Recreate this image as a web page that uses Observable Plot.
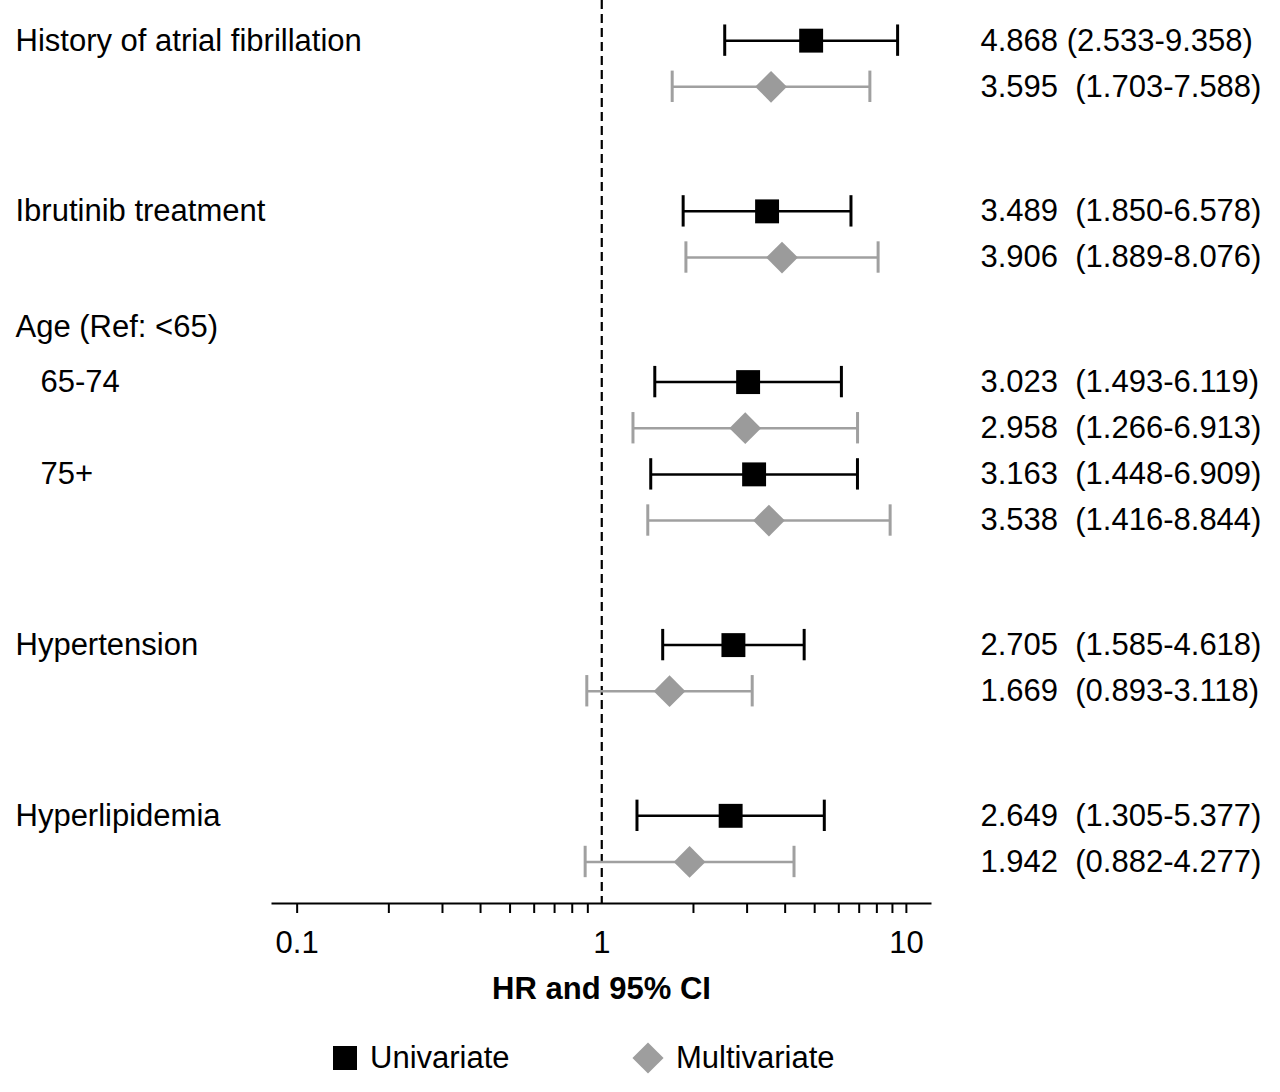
<!DOCTYPE html>
<html>
<head>
<meta charset="utf-8">
<script src="https://cdn.jsdelivr.net/npm/d3@7"></script>
<script src="https://cdn.jsdelivr.net/npm/@observablehq/plot@0.6"></script>
<style>
  html, body { margin: 0; padding: 0; background: #fff; }
  body { width: 1280px; height: 1092px; overflow: hidden; font-family: "Liberation Sans", Arial, sans-serif; }
  #chart svg { display: block; }
  #chart svg text { white-space: pre; }
  #legend { position: relative; height: 82px; width: 1280px; font-size: 31px; color: #000; }
  .item { position: absolute; top: 48px; transform: translateY(-50%); display: flex; align-items: center; }
  .sq { width: 24px; height: 24px; background: #000; margin-right: 13px; }
  .dm { width: 22px; height: 22px; background: #9e9e9e; transform: rotate(45deg); margin: 0 17px 0 5px; }
</style>
</head>
<body>
<div id="chart"></div>
<div id="legend">
  <div class="item" style="left:333px"><div class="sq"></div><span>Univariate</span></div>
  <div class="item" style="left:632px"><div class="dm"></div><span>Multivariate</span></div>
</div>
<script>
// ---- data ----
const groupLabels = ["History of atrial fibrillation", "Ibrutinib treatment", "Age (Ref: <65)", "65-74", "75+", "Hypertension", "Hyperlipidemia"];
const groupRows   = [0, 3.7, 6.2, 7.4, 9.4, 13.1, 16.8];
const groupIndent = [0, 0, 0, 1, 1, 0, 0];

const models   = ["Univariate", "Multivariate"];
const estRows  = [0, 1, 3.7, 4.7, 7.4, 8.4, 9.4, 10.4, 13.1, 14.1, 16.8, 17.8];
const estModel = ["Univariate", "Multivariate", "Univariate", "Multivariate", "Univariate", "Multivariate",
                  "Univariate", "Multivariate", "Univariate", "Multivariate", "Univariate", "Multivariate"];
const hr    = [4.868, 3.595, 3.489, 3.906, 3.023, 2.958, 3.163, 3.538, 2.705, 1.669, 2.649, 1.942];
const lower = [2.533, 1.703, 1.850, 1.889, 1.493, 1.266, 1.448, 1.416, 1.585, 0.893, 1.305, 0.882];
const upper = [9.358, 7.588, 6.578, 8.076, 6.119, 6.913, 6.909, 8.844, 4.618, 3.118, 5.377, 4.277];
const gapText = [" ", "  ", "  ", "  ", "  ", "  ", "  ", "  ", "  ", "  ", "  ", "  "];

const majorTicks = [0.1, 1, 10];
const minorTicks = [0.1, 0.2, 0.3, 0.4, 0.5, 0.6, 0.7, 0.8, 0.9, 2, 3, 4, 5, 6, 7, 8, 9, 10];
const axisTitle = "HR and 95% CI";

// ---- tables ----
const est = hr.map((v, i) => ({
  row: estRows[i], model: estModel[i], hr: v, lo: lower[i], hi: upper[i],
  label: `${v.toFixed(3)}${gapText[i]}(${lower[i].toFixed(3)}-${upper[i].toFixed(3)})`
}));
const groups = groupLabels.map((t, i) => ({text: t, row: groupRows[i], indent: groupIndent[i]}));

const capHalf = 0.34;
const font = "Liberation Sans, Arial, sans-serif";

const chart = Plot.plot({
  width: 1280,
  height: 1010,
  marginLeft: 272,
  marginRight: 350,
  marginTop: 0,
  marginBottom: 107,
  style: {fontFamily: font, fontSize: "31px", color: "#000", background: "#fff"},
  x: {type: "log", domain: [0.083, 12], axis: null},
  y: {type: "linear", domain: [-0.87, 18.70], reverse: true, axis: null},
  color: {domain: models, range: ["#000000", "#a0a0a0"]},
  marks: [
    Plot.ruleX([1], {stroke: "#000", strokeWidth: 2.2, strokeDasharray: "9,5"}),
    Plot.frame({anchor: "bottom", stroke: "#000", strokeWidth: 2}),
    Plot.axisX({ticks: minorTicks, tickSize: 10, tickFormat: () => "", strokeWidth: 2, label: null}),
    Plot.axisX({ticks: majorTicks, tickSize: 0, tickPadding: 27, tickFormat: d => String(d), fontSize: 31, label: null}),
    Plot.text([axisTitle], {frameAnchor: "bottom", dy: 95, text: d => d, fontWeight: "bold", fontSize: 31}),
    Plot.ruleY(est, {y: "row", x1: "lo", x2: "hi", stroke: "model", strokeWidth: 2.5}),
    Plot.ruleX(est, {x: "lo", y1: d => d.row - capHalf, y2: d => d.row + capHalf, stroke: "model", strokeWidth: 3}),
    Plot.ruleX(est, {x: "hi", y1: d => d.row - capHalf, y2: d => d.row + capHalf, stroke: "model", strokeWidth: 3}),
    Plot.dot(est.filter(d => d.model === "Univariate"), {x: "hr", y: "row", symbol: "square", r: 13.5, fill: "#000", stroke: null}),
    Plot.dot(est.filter(d => d.model === "Multivariate"), {x: "hr", y: "row", symbol: "diamond2", r: 14.3, fill: "#9b9b9b", stroke: null}),
    Plot.text(est, {y: "row", text: "label", frameAnchor: "right", textAnchor: "start", dx: 50, fontSize: 31, fill: "#000"}),
    Plot.text(groups.filter(d => !d.indent), {y: "row", text: "text", frameAnchor: "left", textAnchor: "start", dx: -257, fontSize: 31, fill: "#000"}),
    Plot.text(groups.filter(d => d.indent), {y: "row", text: "text", frameAnchor: "left", textAnchor: "start", dx: -232, fontSize: 31, fill: "#000"})
  ]
});
document.getElementById("chart").appendChild(chart);
</script>
</body>
</html>
